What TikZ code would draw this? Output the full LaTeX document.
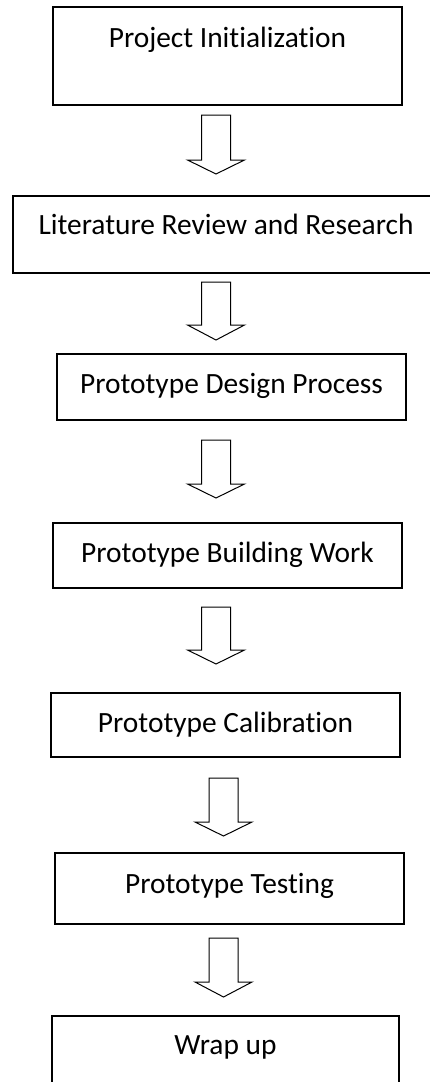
\documentclass[tikz,border=0pt]{standalone}
\usepackage{fontspec}
\setmainfont{Carlito}[Ligatures={NoCommon,NoContextual}]
\begin{document}
\begin{tikzpicture}[x=1pt,y=-1pt,
  box/.style={draw=black, line width=1.8pt, rectangle, inner sep=0pt},
  lbl/.style={anchor=base, inner sep=0pt, font=\fontsize{29.4}{35}\selectfont},
  flowarrow/.style={draw=black, line width=1pt, fill=white, line join=miter}]
\useasboundingbox (0,0) rectangle (430,1082);
\clip (0,0) rectangle (430,1082);

% process steps
\node[box, minimum width=349pt, minimum height=98pt] (b1) at (227.5,56) {};
\node[lbl] (t1) at (227.5,47) {Project Initialization};

\node[box, minimum width=426pt, minimum height=77pt] (b2) at (226,234.5) {};
\node[lbl] (t2) at (226,234) {Literature Review and Research};

\node[box, minimum width=349pt, minimum height=66pt] (b3) at (231.5,387) {};
\node[lbl] (t3) at (231.5,393) {Prototype Design Process};

\node[box, minimum width=349pt, minimum height=65pt] (b4) at (227.5,555.5) {};
\node[lbl] (t4) at (227.5,562) {Prototype Building Work};

\node[box, minimum width=349pt, minimum height=64pt] (b5) at (225.5,725) {};
\node[lbl] (t5) at (225.5,732) {Prototype Calibration};

\node[box, minimum width=349pt, minimum height=71pt] (b6) at (229.5,888.5) {};
\node[lbl] (t6) at (229.5,893) {Prototype Testing};

\node[box, minimum width=347pt, minimum height=80pt] (b7) at (225.5,1056) {};
\node[lbl] (t7) at (225.5,1054) {Wrap up};

% hollow block arrows between the steps: centre x, shaft top, head base, tip
\newcommand{\blockarrow}[4]{%
  \draw[flowarrow] (#1-14.5,#2) -- (#1+14.5,#2) -- (#1+14.5,#3) -- (#1+28.5,#3)
    -- (#1,#4) -- (#1-28.5,#3) -- (#1-14.5,#3) -- cycle;}
\blockarrow{216}{115}{160}{174}
\blockarrow{216}{282}{325}{340}
\blockarrow{216}{440}{484}{498}
\blockarrow{216}{607}{650}{664}
\blockarrow{223.5}{778}{822}{836}
\blockarrow{223.5}{938}{982}{997}
\end{tikzpicture}
\end{document}
